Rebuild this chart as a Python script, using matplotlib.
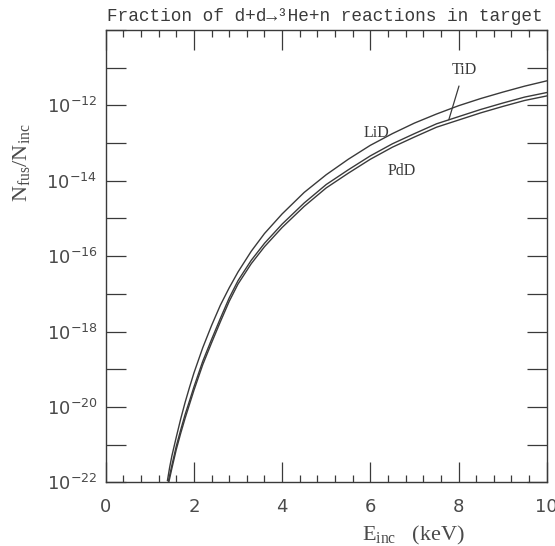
import numpy as np
import matplotlib.pyplot as plt
from matplotlib.ticker import FixedLocator, FuncFormatter, MultipleLocator, NullLocator

plt.rcParams['mathtext.fontset'] = 'custom'
plt.rcParams['mathtext.rm'] = 'Liberation Serif'
plt.rcParams['mathtext.it'] = 'Liberation Serif:italic'
plt.rcParams['mathtext.sf'] = 'DejaVu Sans'

ink = '#3a3a3a'

# incident energy (keV) and log10(N_fus/N_inc)
e_lid = [1.40, 1.45, 1.5, 1.6, 1.7, 1.8, 1.9, 2.0, 2.2, 2.4, 2.6, 2.8, 3.0, 3.3,
         3.6, 4.0, 4.5, 5.0, 5.5, 6.0, 6.5, 7.0, 7.5, 8.0, 8.5, 9.0, 9.5, 10.0]
log_lid = [-21.95, -21.6, -21.3, -20.8, -20.32, -19.88, -19.48, -19.1, -18.43, -17.84,
           -17.3, -16.84, -16.42, -15.87, -15.4, -14.88, -14.31, -13.84, -13.43, -13.06,
           -12.75, -12.47, -12.23, -12.01, -11.82, -11.65, -11.49, -11.35]

e_tid = [1.42, 1.5, 1.6, 1.7, 1.8, 1.9, 2.0, 2.2, 2.4, 2.6, 2.8, 3.0, 3.3,
         3.6, 4.0, 4.5, 5.0, 5.5, 6.0, 6.5, 7.0, 7.5, 8.0, 8.5, 9.0, 9.5, 10.0]
log_tid = [-21.97, -21.55, -21.04, -20.61, -20.2, -19.84, -19.47, -18.79, -18.21,
           -17.65, -17.11, -16.65, -16.11, -15.66, -15.15, -14.59, -14.1, -13.71,
           -13.34, -13.02, -12.75, -12.49, -12.3, -12.11, -11.94, -11.78, -11.66]

e_pdd = [1.43, 1.5, 1.6, 1.7, 1.8, 1.9, 2.0, 2.2, 2.4, 2.6, 2.8, 3.0, 3.3,
         3.6, 4.0, 4.5, 5.0, 5.5, 6.0, 6.5, 7.0, 7.5, 8.0, 8.5, 9.0, 9.5, 10.0]
log_pdd = [-22.0, -21.63, -21.13, -20.7, -20.3, -19.93, -19.56, -18.88, -18.3,
           -17.74, -17.2, -16.74, -16.2, -15.75, -15.24, -14.68, -14.19, -13.8,
           -13.43, -13.11, -12.84, -12.58, -12.39, -12.2, -12.03, -11.87, -11.75]

x_ticks = [0, 2, 4, 6, 8, 10]
y_exps = list(range(-22, -9))
y_label_exps = [-22, -20, -18, -16, -14, -12]

fig = plt.figure(figsize=(5.55, 5.46), dpi=100)
ax = fig.add_axes([0.1905, 0.1167, 0.7946, 0.8284])

for e, lg in [(e_lid, log_lid), (e_tid, log_tid), (e_pdd, log_pdd)]:
    ax.plot(e, 10.0 ** np.array(lg), color=ink, lw=1.0)

ax.set_yscale('log')
ax.set_xlim(0, 10)
ax.set_ylim(1e-22, 1e-10)

ax.xaxis.set_major_locator(FixedLocator(x_ticks))
ax.xaxis.set_minor_locator(MultipleLocator(0.4))
ax.yaxis.set_major_locator(FixedLocator([10.0 ** k for k in y_exps]))
ax.yaxis.set_minor_locator(NullLocator())


def ylab(v, pos):
    k = int(round(np.log10(v)))
    if k in y_label_exps:
        return r'$\mathsf{10^{%d}}$' % k
    return ''


ax.yaxis.set_major_formatter(FuncFormatter(ylab))

ax.tick_params(which='both', direction='in', top=True, right=True,
               color=ink, width=0.9, labelcolor='#4a4a4a', labelsize=13)
ax.tick_params(which='major', length=14.4)
ax.tick_params(which='minor', length=5)
ax.tick_params(axis='x', pad=11)
ax.tick_params(axis='y', pad=6)
for s in ax.spines.values():
    s.set_color(ink)
    s.set_linewidth(1.0)

ax.set_ylabel(r'N$_{\rm fus}$/N$_{\rm inc}$', fontsize=16,
              family='Liberation Serif', color='#4a4a4a')
ax.yaxis.set_label_coords(-0.168, 0.706)
ax.set_xlabel(r'E$_{\rm inc}$   (keV)', fontsize=16,
              family='Liberation Serif', color='#4a4a4a')
ax.xaxis.set_label_coords(0.697, -0.092)

ax.text(0.497, 1.02, 'Fraction of d+d\u2192\u00b3He+n reactions in target',
        transform=ax.transAxes, ha='center', va='baseline', fontsize=12.8,
        family=['Liberation Mono', 'DejaVu Sans Mono'], color='#3a3a3a')

ax.text(6.13, 10 ** -12.74, 'LiD', ha='center', va='center', fontsize=11.5,
        family='Liberation Serif', color=ink)
ax.text(6.71, 10 ** -13.74, 'PdD', ha='center', va='center', fontsize=11.5,
        family='Liberation Serif', color=ink)
ax.annotate('TiD', xy=(7.78, 10 ** -12.38), xytext=(8.12, 10 ** -11.06),
            ha='center', va='center', fontsize=11.5, family='Liberation Serif',
            color=ink, arrowprops=dict(arrowstyle='-', color=ink, lw=0.9,
                                       shrinkA=4, shrinkB=0))

fig.savefig('out.png', dpi=100)
